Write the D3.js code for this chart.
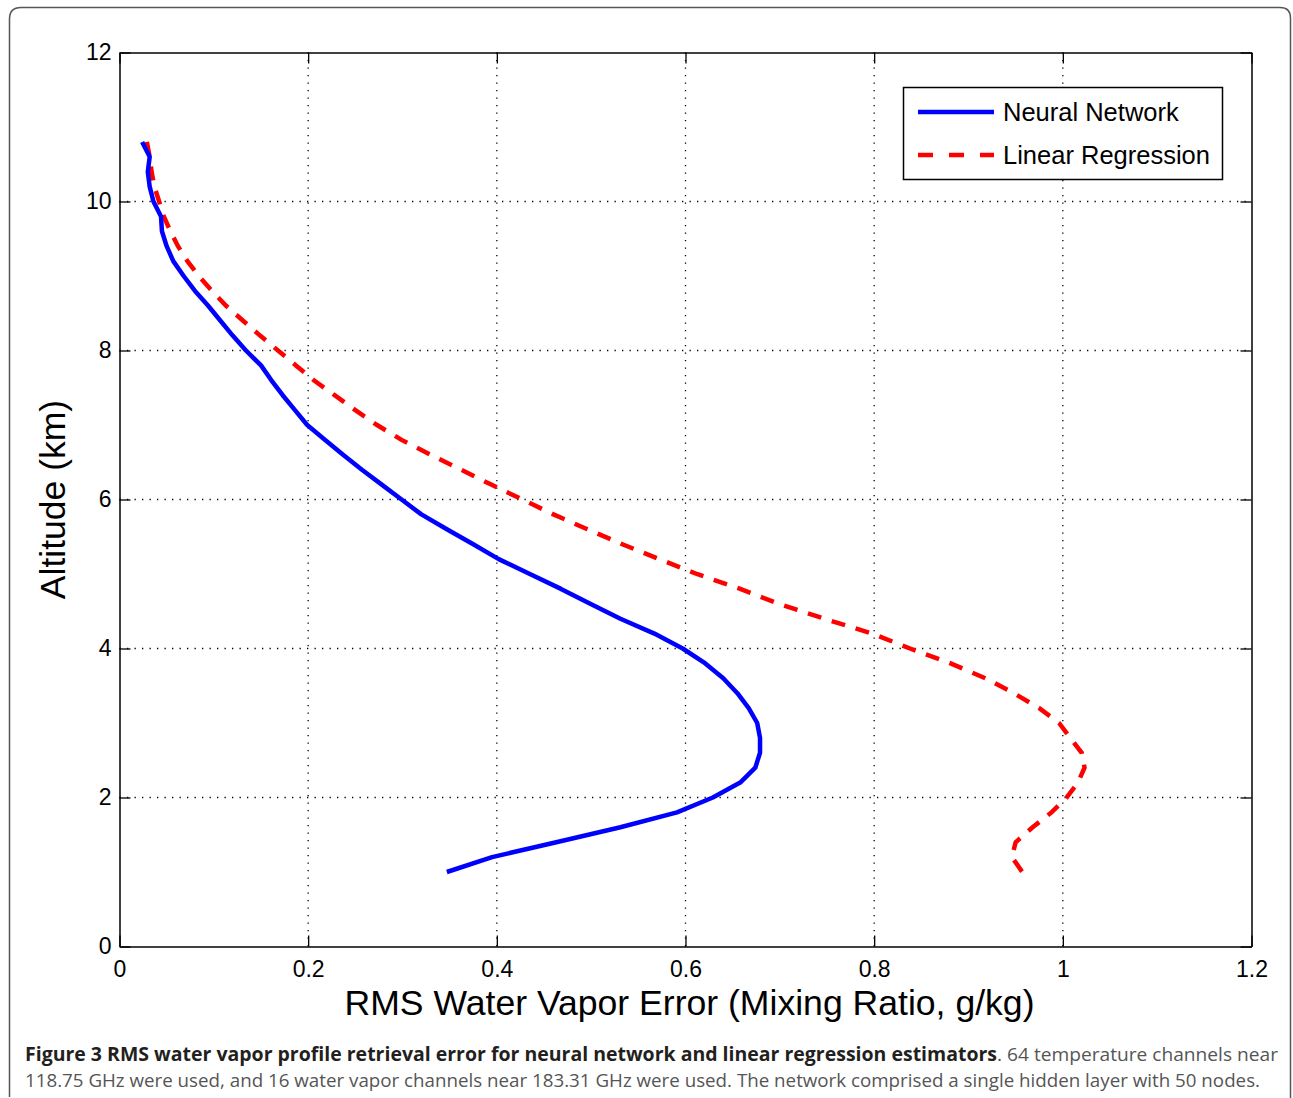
<!DOCTYPE html>
<html><head><meta charset="utf-8">
<script src="https://cdn.jsdelivr.net/npm/d3@7"></script>
<style>body{margin:0;background:#fff;} svg{display:block;}</style>
</head><body>
<script>
const altitudes = [10.8,10.6,10.4,10.2,10.0,9.8,9.6,9.4,9.2,9.0,8.8,8.6,8.4,8.2,8.0,7.8,7.6,7.4,7.2,7.0,6.8,6.6,6.4,6.2,6.0,5.8,5.6,5.4,5.2,5.0,4.8,4.6,4.4,4.2,4.0,3.8,3.6,3.4,3.2,3.0,2.8,2.6,2.4,2.2,2.0,1.8,1.6,1.4,1.2,1.0];
const neuralNetwork = [0.024,0.032,0.030,0.032,0.036,0.044,0.045,0.050,0.057,0.068,0.080,0.094,0.107,0.120,0.134,0.150,0.161,0.173,0.186,0.199,0.218,0.237,0.257,0.278,0.299,0.320,0.347,0.375,0.402,0.435,0.468,0.499,0.531,0.567,0.597,0.621,0.640,0.655,0.667,0.676,0.679,0.679,0.674,0.658,0.629,0.591,0.531,0.463,0.395,0.347];
const linearRegression = [0.029,0.032,0.034,0.037,0.042,0.047,0.054,0.062,0.072,0.084,0.098,0.113,0.131,0.149,0.168,0.187,0.206,0.228,0.250,0.273,0.299,0.330,0.362,0.394,0.427,0.460,0.496,0.533,0.572,0.612,0.658,0.699,0.747,0.798,0.838,0.881,0.918,0.948,0.975,0.996,1.008,1.020,1.023,1.016,1.004,0.988,0.968,0.950,0.946,0.957];
const xTicks = [0,0.2,0.4,0.6,0.8,1,1.2];
const yTicks = [0,2,4,6,8,10,12];
const seriesNames = ["Neural Network","Linear Regression"];
const xTitle = "RMS Water Vapor Error (Mixing Ratio, g/kg)";
const yTitle = "Altitude (km)";
const captionBold = "Figure 3 RMS water vapor profile retrieval error for neural network and linear regression estimators";
const captionRest = ". 64 temperature channels near";
const captionLine2 = "118.75 GHz were used, and 16 water vapor channels near 183.31 GHz were used. The network comprised a single hidden layer with 50 nodes.";

const W = 1293, H = 1098;
const svg = d3.select("body").append("svg").attr("width", W).attr("height", H);

// outer frame
svg.append("path")
  .attr("d", "M9.5,1097 Q9.5,1093 9.5,1088 L9.5,19 Q9.5,7.5 21,7.5 L1280,7.5 Q1290.5,7.5 1290.5,18 L1290.5,1098")
  .attr("fill","none").attr("stroke","#555").attr("stroke-width",1.5);

const L = 119.5, R = 1251.5, T = 52.5, B = 946.5;
const x = d3.scaleLinear().domain([0,1.2]).range([L,R]);
const y = d3.scaleLinear().domain([0,12]).range([B,T]);

const g = svg.append("g");
// grid
g.selectAll(".gx").data(xTicks.slice(1,-1)).join("line")
  .attr("x1", d=>x(d)).attr("x2", d=>x(d)).attr("y1", T).attr("y2", B)
  .attr("stroke","#000").attr("stroke-width",1.3).attr("stroke-dasharray","1.3,6.2");
g.selectAll(".gy").data(yTicks.slice(1,-1)).join("line")
  .attr("y1", d=>y(d)).attr("y2", d=>y(d)).attr("x1", L).attr("x2", R)
  .attr("stroke","#000").attr("stroke-width",1.3).attr("stroke-dasharray","1.3,6.2");

// axes
const fontAx = "Helvetica, 'Liberation Sans', Arial, sans-serif";
const xAxis = g.append("g").attr("transform",`translate(0,${B})`)
  .call(d3.axisBottom(x).tickValues(xTicks).tickFormat(d3.format("~g")).tickSizeInner(-11).tickSizeOuter(0).tickPadding(14));
const yAxis = g.append("g").attr("transform",`translate(${L},0)`)
  .call(d3.axisLeft(y).tickValues(yTicks).tickFormat(d3.format("~g")).tickSizeInner(-11).tickSizeOuter(0).tickPadding(8));
const xAxisTop = g.append("g").attr("transform",`translate(0,${T})`)
  .call(d3.axisTop(x).tickValues(xTicks).tickFormat("").tickSizeInner(-11).tickSizeOuter(0));
const yAxisR = g.append("g").attr("transform",`translate(${R},0)`)
  .call(d3.axisRight(y).tickValues(yTicks).tickFormat("").tickSizeInner(-11).tickSizeOuter(0));
[xAxis,yAxis,xAxisTop,yAxisR].forEach(a=>{
  a.attr("font-family",fontAx);
  a.select(".domain").attr("stroke","#000").attr("stroke-width",1.5);
  a.selectAll(".tick line").attr("stroke","#000").attr("stroke-width",1.3);
  a.selectAll("text").attr("font-family",fontAx).attr("font-size",23).attr("fill","#000");
});
xAxis.selectAll("text").attr("dy","0.71em");

// lines
const lineGen = d3.line().x(d=>x(d[0])).y(d=>y(d[1]));
const nnData = altitudes.map((a,i)=>[neuralNetwork[i],a]);
const lrData = altitudes.map((a,i)=>[linearRegression[i],a]);
g.append("path").datum(lrData).attr("d", lineGen).attr("fill","none")
  .attr("stroke","#ff0000").attr("stroke-width",4.5).attr("stroke-dasharray","14,11");
g.append("path").datum(nnData).attr("d", lineGen).attr("fill","none")
  .attr("stroke","#0000ff").attr("stroke-width",4.5).attr("stroke-linejoin","round");

// legend
const lg = svg.append("g");
lg.append("rect").attr("x",903.5).attr("y",87.5).attr("width",319).attr("height",92)
  .attr("fill","#fff").attr("stroke","#000").attr("stroke-width",1.5);
lg.append("line").attr("x1",918).attr("x2",994).attr("y1",112).attr("y2",112)
  .attr("stroke","#0000ff").attr("stroke-width",4.5);
lg.append("line").attr("x1",918).attr("x2",994).attr("y1",155).attr("y2",155)
  .attr("stroke","#ff0000").attr("stroke-width",4.5).attr("stroke-dasharray","15,16");
lg.selectAll("text").data(seriesNames).join("text")
  .attr("x",1003).attr("y",(d,i)=>112+i*43).attr("dy","0.35em")
  .attr("font-family",fontAx).attr("font-size",25.5).attr("fill","#000").text(d=>d);

// axis titles
svg.append("text").attr("x",(L+R)/2 + 4).attr("y",1015).attr("text-anchor","middle")
  .attr("font-family",fontAx).attr("font-size",35.6).attr("fill","#000").text(xTitle);
svg.append("text").attr("transform",`translate(65,${(T+B)/2}) rotate(-90)`).attr("text-anchor","middle")
  .attr("font-family",fontAx).attr("font-size",35.5).attr("fill","#000").text(yTitle);

// caption
const capFont = "'Open Sans', sans-serif";
svg.append("text").attr("x",25).attr("y",1061).attr("font-family",capFont).attr("font-size",18.8)
  .attr("font-weight","bold").attr("fill","#231f20")
  .attr("textLength",972).attr("lengthAdjust","spacingAndGlyphs").text(captionBold);
svg.append("text").attr("x",997).attr("y",1061).attr("font-family",capFont).attr("font-size",18.8)
  .attr("fill","#555").attr("textLength",281).attr("lengthAdjust","spacingAndGlyphs").text(captionRest);
svg.append("text").attr("x",25).attr("y",1087).attr("font-family",capFont).attr("font-size",18.8)
  .attr("fill","#555").attr("textLength",1235).attr("lengthAdjust","spacingAndGlyphs").text(captionLine2);
</script>
</body></html>
